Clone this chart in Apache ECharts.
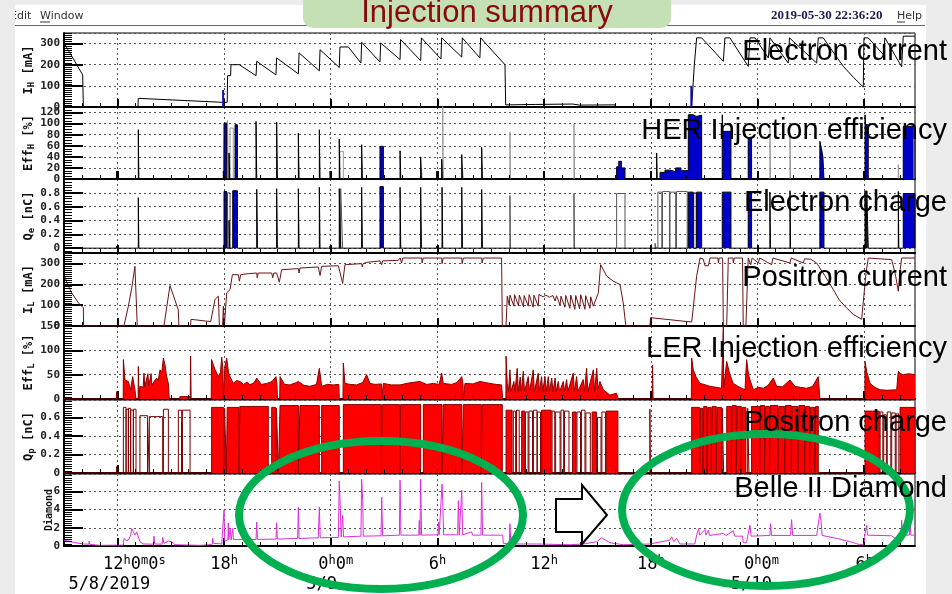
<!DOCTYPE html>
<html><head><meta charset="utf-8">
<script src="https://cdn.jsdelivr.net/npm/echarts@6/dist/echarts.min.js"></script>
<style>html,body{margin:0;padding:0;background:#efefef}#c{width:952px;height:594px}</style>
</head><body><div id="c"></div>
<script>
// ---------------- data (hours since 5/8/2019 00:00) ----------------
const timeTicks = [12, 18, 24, 30, 36, 42, 48, 54];
const timeTickLabels = ['12h0m0s', '18h', '0h0m', '6h', '12h', '18h', '0h0m', '6h'];
const dateTickLabels = ['5/8/2019', '', '5/9', '', '', '', '5/10', ''];

const panelTitles = ['Electron current', 'HER Injection efficiency', 'Electron charge', 'Positron current', 'LER Injection efficiency', 'Positron charge', 'Belle II Diamond'];
const panelUnits = [['I', 'H', ' [mA]'], ['Eff', 'H', ' [%]'], ['Q', 'e', ' [nC]'], ['I', 'L', ' [mA]'], ['Eff', 'L', ' [%]'], ['Q', 'p', ' [nC]'], ['Diamond', '', '']];

// Electron current I_H [mA]
const electronCurrent = [[9.00,303],[10.05,152],[10.09,0],[13.16,0],[13.18,41],[17.96,22],[18.18,22],[18.20,148],[18.37,148],[18.39,200],[18.86,200],[19.80,148],[19.84,216],[20.92,152],[20.96,232],[22.18,157],[22.22,256],[23.36,171],[23.40,271],[24.48,187],[24.52,284],[24.99,284],[25.70,208],[25.74,306],[26.77,213],[26.81,303],[27.90,224],[27.93,319],[29.06,219],[29.10,327],[30.20,227],[30.24,327],[31.37,236],[31.40,327],[32.39,232],[32.43,327],[33.80,200],[33.84,10],[35.50,12],[37.60,14],[38.00,9],[39.99,10],[40.02,0],[44.30,0],[44.45,200],[44.58,327],[44.86,327],[46.08,216],[46.17,327],[46.45,327],[47.48,192],[47.58,327],[47.86,327],[48.61,232],[48.70,327],[49.73,208],[49.80,327],[51.33,208],[51.42,327],[51.70,327],[52.30,255],[52.83,192],[53.40,140],[53.95,94],[53.99,327],[54.23,327],[55.08,248],[55.17,327],[56.11,190],[56.20,335],[56.86,335]];
const electronCurrentBlue = [[17.95,80],[44.28,100]];

// HER injection efficiency [%]  (start, end, value)
const herEffBlocks = [[11.96,11.99,14],[13.18,13.21,89],[17.96,17.99,14],[18.00,18.15,101],[18.28,18.32,47],[18.62,18.75,98],[19.80,19.84,104],[20.96,21.00,103],[22.18,22.22,83],[23.36,23.40,89],[23.96,23.99,14],[24.48,24.51,72],[25.74,25.78,62],[26.77,26.96,59],[27.90,27.94,51],[29.06,29.10,40],[29.96,29.99,14],[30.24,30.28,36],[31.37,31.41,44],[32.49,32.53,57],[40.08,40.20,22],[40.20,40.35,32],[40.35,40.55,20],[42.33,42.36,47],[42.52,42.80,12],[42.80,43.10,16],[43.10,43.40,13],[43.40,43.70,20],[43.70,44.11,15],[44.11,44.40,116],[44.40,44.55,113],[44.55,44.86,115],[46.02,46.05,116],[46.05,46.51,86],[47.48,47.67,74],[51.51,51.60,68],[51.60,51.68,55],[51.68,51.74,40],[54.05,54.08,116],[54.08,54.23,98],[56.20,56.86,95]];
const herEffGrayBlocks = [[18.20,18.23,106],[18.34,18.52,92],[24.52,24.71,50],[29.10,29.14,20],[30.30,30.33,135],[31.41,31.45,20],[34.08,34.11,85],[37.68,37.71,99],[48.70,48.73,92],[49.83,49.86,83],[55.92,55.95,26],[56.80,56.84,101]];

// Electron charge Q_e [nC]
const electronChargeBlocks = [[11.96,11.99,0.03],[13.18,13.21,0.73],[18.00,18.15,0.82],[18.28,18.32,0.40],[18.49,18.75,0.83],[19.84,19.88,0.85],[20.96,21.00,0.86],[22.18,22.22,0.86],[23.36,23.40,0.88],[23.96,23.99,0.03],[24.48,24.56,0.86],[25.74,25.78,0.88],[26.77,26.96,0.89],[27.90,27.94,0.88],[29.06,29.10,0.88],[29.96,29.99,0.03],[30.26,30.30,0.88],[31.37,31.41,0.88],[32.49,32.53,0.85],[44.11,44.39,0.81],[44.58,44.86,0.81],[46.02,46.51,0.81],[47.48,47.67,0.81],[48.70,48.73,0.81],[49.83,49.86,0.83],[51.51,51.74,0.81],[54.05,54.10,0.83],[54.15,54.23,0.83],[55.92,55.95,0.82],[56.20,56.86,0.79]];
const electronChargeOutline = [[18.20,18.34,0.80],[24.56,24.67,0.86],[34.08,34.11,0.76],[37.68,37.71,0.79],[40.08,40.55,0.79],[42.24,42.30,0.07],[42.40,42.62,0.81],[42.66,43.05,0.82],[43.08,43.40,0.81],[43.45,44.05,0.82],[44.42,44.55,0.80],[54.10,54.15,0.83]];

// Positron current I_L [mA]
const positronCurrent = [[9.00,246],[9.20,200],[9.43,159],[9.81,111],[10.09,87],[10.10,0],[12.37,0],[12.62,95],[12.81,183],[12.99,286],[13.12,0],[14.62,0],[14.96,194],[15.43,76],[15.46,0],[16.12,0],[16.14,32],[17.25,21],[17.49,127],[17.68,143],[17.74,0],[17.92,0],[17.96,95],[18.02,0],[18.10,0],[18.15,159],[18.25,150],[18.34,175],[18.47,246],[18.81,246],[18.86,215],[18.94,246],[19.37,251],[19.84,254],[19.87,231],[19.92,254],[20.68,254],[20.74,231],[20.80,254],[20.96,254],[21.11,210],[21.24,270],[22.18,275],[22.22,254],[22.27,278],[23.30,283],[23.40,242],[23.49,286],[24.43,289],[24.67,204],[24.80,294],[25.74,299],[25.78,283],[25.82,299],[26.02,305],[26.77,312],[26.87,294],[26.92,312],[27.80,315],[27.90,326],[27.99,302],[28.05,326],[29.12,326],[29.14,302],[29.20,326],[30.24,326],[30.26,299],[30.33,326],[31.37,326],[31.39,299],[31.46,326],[32.49,326],[32.51,302],[32.58,326],[33.61,326],[33.65,0],[33.86,0],[33.93,143],[34.04,100],[34.08,148],[34.30,95],[34.34,150],[34.56,97],[34.61,148],[34.84,92],[34.88,146],[35.11,95],[35.16,150],[35.39,90],[35.43,148],[35.67,95],[35.71,151],[35.95,140],[36.10,148],[36.30,138],[36.50,146],[36.62,120],[36.70,145],[36.90,100],[36.95,143],[37.17,90],[37.22,146],[37.45,85],[37.50,148],[37.73,80],[37.78,146],[38.00,82],[38.06,150],[38.30,80],[38.34,145],[38.58,85],[38.62,140],[38.77,95],[39.05,159],[39.18,294],[39.52,239],[39.89,215],[40.08,207],[40.17,215],[40.27,199],[40.45,111],[40.60,0],[41.95,0],[41.99,40],[44.30,19],[44.58,239],[44.77,326],[44.95,321],[45.05,289],[45.24,289],[45.33,326],[45.78,326],[45.80,302],[45.85,326],[46.04,326],[46.08,0],[46.27,0],[46.36,326],[46.62,326],[46.64,302],[46.70,326],[47.16,326],[47.20,0],[47.35,0],[47.48,326],[47.62,294],[47.70,326],[48.05,302],[48.12,326],[48.80,294],[48.87,326],[49.83,302],[49.90,326],[50.58,302],[50.65,322],[51.00,320],[51.33,302],[51.80,240],[52.26,175],[52.60,125],[53.01,87],[53.40,55],[53.86,32],[53.95,32],[54.10,250],[54.23,326],[54.90,322],[55.55,318],[55.75,250],[55.92,167],[56.00,250],[56.11,326],[56.86,326]];

// LER injection efficiency [%]
const lerEff = [[9,0],[11.94,0],[11.96,15],[11.98,0],[12.33,0],[12.34,81],[12.43,39],[12.62,36],[12.75,19],[12.86,46],[12.99,19],[13.05,0],[13.17,0],[13.18,67],[13.22,0],[13.26,0],[13.27,26],[13.45,24],[13.50,53],[13.54,25],[13.65,26],[13.72,52],[13.76,27],[13.85,28],[13.90,52],[13.94,28],[14.05,35],[14.21,43],[14.30,38],[14.40,60],[14.50,55],[14.59,84],[14.68,70],[14.78,45],[14.87,32],[14.92,0],[15.50,0],[15.52,5],[16.08,5],[16.10,0],[16.12,88],[16.15,0],[17.28,0],[17.30,81],[17.40,70],[17.50,60],[17.68,46],[17.80,55],[17.87,86],[17.94,60],[17.96,0],[18.02,0],[18.05,67],[18.15,84],[18.25,55],[18.34,46],[18.52,32],[18.70,38],[18.90,36],[19.10,30],[19.30,35],[19.46,29],[19.70,34],[19.84,43],[20.10,30],[20.40,32],[20.70,36],[20.92,46],[20.98,30],[21.00,0],[21.13,0],[21.15,46],[21.40,30],[21.71,29],[22.00,33],[22.18,36],[22.50,28],[22.84,26],[23.20,30],[23.36,63],[23.49,26],[23.80,30],[24.15,29],[24.46,30],[24.48,0],[24.69,0],[24.71,74],[24.80,32],[25.10,30],[25.46,29],[25.80,34],[26.02,50],[26.21,32],[26.50,30],[26.85,31],[26.87,0],[26.94,0],[26.96,32],[27.40,29],[27.90,29],[28.40,33],[29.02,36],[29.40,30],[29.77,32],[30.10,30],[30.24,53],[30.33,32],[30.80,30],[31.10,34],[31.37,46],[31.44,30],[31.46,0],[31.53,0],[31.55,32],[32.00,31],[32.40,36],[32.96,32],[33.30,30],[33.61,29],[33.67,0],[33.85,0],[33.86,88],[33.93,32],[34.00,15],[34.08,60],[34.14,15],[34.30,36],[34.36,15],[34.49,63],[34.55,15],[34.66,45],[34.72,15],[34.83,57],[34.90,15],[35.11,46],[35.18,15],[35.39,60],[35.45,15],[35.67,53],[35.73,15],[35.86,46],[35.92,15],[36.05,46],[36.12,15],[36.24,46],[36.30,15],[36.43,43],[36.50,15],[36.62,43],[36.68,15],[36.80,36],[36.87,15],[37.08,36],[37.15,15],[37.27,40],[37.33,15],[37.64,53],[37.70,15],[37.83,46],[37.90,15],[38.20,40],[38.27,15],[38.39,63],[38.46,15],[38.77,60],[38.84,15],[38.96,63],[39.03,20],[39.14,36],[39.33,19],[39.70,8],[40.08,12],[40.17,0],[42.08,0],[42.10,70],[42.13,0],[44.28,0],[44.30,84],[44.39,60],[44.55,45],[44.77,32],[45.00,30],[45.33,26],[45.70,24],[45.98,22],[46.06,22],[46.08,150],[46.10,22],[46.17,22],[46.27,77],[46.45,50],[46.64,32],[47.00,24],[47.30,19],[47.39,81],[47.50,50],[47.58,39],[47.77,19],[48.05,24],[48.33,22],[48.60,28],[48.89,43],[49.08,26],[49.40,25],[49.83,39],[50.11,26],[50.40,24],[50.77,22],[51.10,26],[51.42,46],[51.48,50],[51.51,0],[54.04,0],[54.05,77],[54.15,55],[54.33,32],[54.60,24],[54.89,19],[55.30,18],[55.83,19],[55.92,57],[56.05,52],[56.20,50],[56.50,52],[56.86,50]];

// Positron charge Q_p [nC]
const positronChargeBlocks = [[17.30,17.98,0.71],[18.03,18.13,0.70],[18.18,18.84,0.71],[18.89,20.49,0.72],[20.68,20.90,0.71],[20.95,21.06,0.70],[21.15,22.18,0.73],[22.27,23.36,0.73],[23.49,24.48,0.73],[24.71,26.85,0.74],[26.90,27.88,0.74],[27.93,29.06,0.74],[29.21,30.26,0.74],[30.33,31.37,0.74],[31.46,32.47,0.74],[32.52,33.65,0.74],[33.86,34.20,0.68],[34.74,34.92,0.67],[35.86,36.40,0.68],[37.60,37.80,0.66],[38.70,38.95,0.66],[39.50,40.15,0.67],[44.30,44.75,0.71],[44.80,44.93,0.70],[44.98,45.16,0.72],[45.21,45.40,0.71],[45.45,45.68,0.72],[45.73,45.98,0.71],[46.27,46.53,0.72],[46.58,46.81,0.73],[46.86,47.09,0.72],[47.14,47.35,0.71],[47.67,48.12,0.72],[48.17,48.40,0.73],[48.45,48.68,0.72],[48.73,49.15,0.73],[49.20,49.53,0.72],[49.58,49.90,0.73],[49.95,50.28,0.72],[50.33,50.65,0.73],[50.70,50.93,0.72],[50.98,51.22,0.71],[51.27,51.42,0.72],[54.05,54.85,0.67],[56.02,56.86,0.71]];
const positronChargeOutline = [[11.96,11.99,0.07],[12.34,12.49,0.71],[12.49,12.62,0.69],[12.62,12.75,0.70],[12.75,12.90,0.68],[12.90,13.05,0.69],[13.27,13.70,0.62],[13.70,13.80,0.56],[13.80,14.55,0.61],[14.59,14.87,0.69],[15.43,15.62,0.68],[15.62,15.66,0.55],[15.66,16.09,0.68],[34.27,34.40,0.67],[34.45,34.60,0.68],[34.95,35.10,0.66],[35.15,35.35,0.67],[35.40,35.60,0.68],[35.62,35.80,0.66],[36.45,36.60,0.67],[36.65,36.90,0.66],[36.95,37.10,0.68],[37.15,37.40,0.67],[37.85,38.05,0.66],[38.10,38.30,0.68],[38.35,38.60,0.65],[39.00,39.20,0.60],[39.25,39.45,0.66],[41.95,41.98,0.69],[46.02,46.10,0.70],[47.45,47.52,0.70],[54.90,55.05,0.66],[55.10,55.25,0.63],[55.30,55.50,0.66],[55.55,55.75,0.65],[55.80,55.95,0.64]];

// Belle II Diamond
const diamond = [[9.00,0.65],[9.53,0.40],[10.09,0.22],[10.40,0.20],[10.42,0.54],[10.45,0.18],[11.02,0.07],[12.34,0.10],[12.37,0.83],[12.50,0.60],[12.62,0.65],[12.75,1.20],[12.81,1.91],[12.90,2.02],[12.99,1.19],[13.09,1.55],[13.18,1.73],[13.27,0.47],[13.46,0.22],[14.03,0.20],[14.06,1.08],[14.10,0.22],[14.52,0.20],[14.55,0.94],[14.62,0.29],[14.87,0.54],[15.06,0.47],[15.24,0.14],[16.65,0.07],[17.21,0.14],[17.34,0.20],[17.36,0.83],[17.40,0.30],[17.49,0.29],[17.87,0.22],[17.98,0.30],[18.00,3.97],[18.04,0.50],[18.07,0.65],[18.22,0.70],[18.24,2.53],[18.27,0.70],[18.34,1.91],[18.40,0.65],[18.49,1.91],[18.53,0.72],[18.62,0.72],[19.80,0.72],[19.84,2.64],[19.88,0.72],[20.92,0.76],[20.96,2.56],[21.00,0.76],[22.14,0.83],[22.18,4.26],[22.22,0.83],[23.30,0.90],[23.36,4.26],[23.41,0.90],[24.43,0.94],[24.48,7.15],[24.54,4.08],[24.59,1.00],[24.65,1.00],[24.67,3.36],[24.72,1.00],[25.70,1.08],[25.74,7.33],[25.80,4.98],[25.83,1.08],[26.83,1.12],[26.87,5.34],[26.92,1.12],[27.86,1.19],[27.90,7.22],[27.95,1.19],[28.95,1.19],[28.98,2.82],[29.02,1.19],[29.06,7.33],[29.11,1.19],[30.03,1.23],[30.07,2.64],[30.10,1.23],[30.26,6.79],[30.30,4.98],[30.35,1.23],[31.14,1.23],[31.18,4.98],[31.23,1.23],[31.37,6.14],[31.42,1.23],[31.93,1.55],[31.98,1.19],[32.45,1.19],[32.49,6.97],[32.54,1.19],[33.67,1.19],[33.71,0.29],[34.04,0.22],[34.08,2.45],[34.13,0.22],[35.58,0.22],[37.46,0.14],[38.20,0.22],[38.96,0.47],[39.24,0.90],[39.70,0.36],[40.45,0.14],[41.95,0.22],[43.08,0.65],[43.17,1.01],[43.30,0.47],[43.45,0.83],[43.64,0.22],[44.48,0.22],[44.58,1.19],[44.69,1.91],[44.75,1.19],[45.05,1.81],[45.10,1.19],[45.24,1.73],[45.30,1.16],[46.08,1.37],[46.17,1.55],[46.23,1.16],[46.64,1.66],[46.73,1.08],[47.16,1.08],[47.20,0.36],[47.39,0.36],[47.45,1.08],[47.58,2.27],[47.64,1.08],[48.70,1.16],[48.74,2.45],[48.79,1.16],[49.86,1.16],[49.92,2.89],[49.98,1.16],[51.33,1.16],[51.51,3.61],[51.57,2.82],[51.64,1.16],[52.45,0.83],[53.20,0.47],[53.76,0.14],[54.01,0.22],[54.05,1.37],[54.14,2.27],[54.19,1.19],[55.55,1.12],[55.83,0.72],[56.08,0.83],[56.11,2.82],[56.16,1.19],[56.54,1.19],[56.58,2.27],[56.63,1.19],[56.86,1.19]];

// ---------------- layout / styles ----------------
const X_MIN = 9, X_MAX = 56.86;
const gridBoxes = [[33,74],[107,72],[179,74],[253,73],[326,73],[400,73],[474,72]];
const yCfg = [
  {min:0, max:350, interval:100, minorStep:10, showMax:false},
  {min:0, max:130, interval:20, minorStep:5, showMax:false},
  {min:-0.07, max:1.0, minorStep:0.04, showMax:false, showMin:false},
  {min:0, max:350, interval:100, minorStep:10, showMax:false},
  {min:0, max:150, interval:50, minorStep:5, showMax:true},
  {min:0, max:0.79, interval:0.2, minorStep:0.025, showMax:false},
  {min:0, max:7.9, interval:2, minorStep:0.25, showMax:false}
];
const titleY = [51.7, 131, 203.3, 277.5, 349, 423, 489];

function steps(list, broken, withBase) {
  const out = [];
  if (withBase) out.push([X_MIN, 0]);
  for (let i = 0; i < list.length; i++) {
    const [s, e, v] = list[i];
    const prev = list[i - 1], next = list[i + 1];
    const joinPrev = !broken && prev && Math.abs(prev[1] - s) < 1e-9;
    const joinNext = !broken && next && Math.abs(next[0] - e) < 1e-9;
    if (!joinPrev) out.push([s, 0]);
    out.push([s, v]);
    out.push([e, v]);
    if (!joinNext) { out.push([e, 0]); if (broken) out.push([e, '-']); }
  }
  if (withBase) out.push([X_MAX, 0]);
  return out;
}
function spikes(list) {
  const out = [];
  list.forEach(([h, v]) => { out.push([h, 0], [h, v], [h, '-']); });
  return out;
}
function tickList(min, max, step) {
  const out = [];
  for (let k = Math.ceil(min / step - 1e-9); k * step <= max + 1e-9; k++) out.push(+(k * step).toFixed(4));
  return out;
}

const grids = gridBoxes.map(([t, h]) => ({left:64, right:37, top:t, height:h, show:true, borderColor:'#000', borderWidth:1, backgroundColor:'#fff'}));

const mono = 'DejaVu Sans Mono';
const nStyle = {fontFamily:mono, fontSize:17, lineHeight:20, color:'#000'};
const xAxes = gridBoxes.map((_, i) => {
  const last = i === gridBoxes.length - 1;
  return {
    gridIndex:i, type:'value', min:X_MIN, max:X_MAX, position:'bottom',
    axisLine:{show:true, onZero:false, lineStyle:{color:'#000', width:2}},
    axisTick:{show:true, customValues:timeTicks, inside:true, length:8, lineStyle:{color:'#000', width:2}},
    splitLine:{show:true, lineStyle:{color:'#555', width:1, type:[2,3]}},
    axisLabel: last ? {
      show:true, customValues:timeTicks, margin:9, color:'#000',
      formatter:(val) => {
        const k = timeTicks.findIndex(t => Math.abs(t - val) < 1e-6);
        if (k < 0) return '';
        let out = '', buf = '', first = true;
        const flush = () => { if (buf) { out += `{${first ? 'n' + k : 'n'}|${buf}}`; first = false; buf = ''; } };
        for (const ch of timeTickLabels[k]) {
          if ('hms'.includes(ch)) { flush(); out += `{s|${ch}}`; } else buf += ch;
        }
        flush();
        if (dateTickLabels[k]) out += `\n{d${k}|${dateTickLabels[k]}}`;
        return out;
      },
      rich:{
        n:nStyle,
        n0:Object.assign({}, nStyle, {padding:[0,0,0,34]}),
        n1:nStyle,
        n2:Object.assign({}, nStyle, {padding:[0,0,0,10]}),
        n3:nStyle, n4:nStyle, n5:nStyle,
        n6:Object.assign({}, nStyle, {padding:[0,0,0,8]}),
        n7:nStyle,
        s:{fontFamily:mono, fontSize:12, lineHeight:12, verticalAlign:'top', color:'#000'},
        d0:Object.assign({}, nStyle, {padding:[0,16,0,0]}),
        d2:Object.assign({}, nStyle, {padding:[0,18,0,0]}),
        d6:Object.assign({}, nStyle, {padding:[0,12,0,0]})
      }
    } : {show:false}
  };
});

const yAxes = yCfg.map((c, i) => {
  const u = panelUnits[i];
  const isDia = u[1] === '';
  const ax = {
    gridIndex:i, type:'value', min:c.min, max:c.max, position:'left',
    axisLine:{show:true, onZero:false, lineStyle:{color:'#000', width:2}},
    axisTick:{show:true, inside:true, length:19, lineStyle:{color:'#000', width:2}},
    splitLine:{show:true, lineStyle:{color:'#555', width:1, type:[2,3]}},
    axisLabel:{show:true, margin:4, showMaxLabel:c.showMax, showMinLabel:c.showMin !== false,
      fontFamily:mono, fontWeight:'bold', fontSize:11, color:'#222'},
    name: isDia ? `{c|${u[0]}}` : `{a|${u[0]}}{b|${u[1]}}{a|${u[2]}}`,
    nameLocation:'middle', nameGap: isDia ? 9 : 28, nameRotate:90, nameMoveOverlap:false,
    nameTextStyle:{rich:{
      a:{fontFamily:mono, fontWeight:'bold', fontSize:12, lineHeight:15, color:'#111'},
      b:{fontFamily:mono, fontWeight:'bold', fontSize:9, lineHeight:9, verticalAlign:'bottom', color:'#111'},
      c:{fontFamily:mono, fontWeight:'bold', fontSize:10, lineHeight:11, color:'#111'}
    }}
  };
  if (c.interval !== undefined) ax.interval = c.interval; else ax.splitNumber = 5;
  return ax;
});

const base = {type:'line', symbol:'none', showSymbol:false, animation:false, silent:true, connectNulls:false};
const series = [
  Object.assign({}, base, {xAxisIndex:0, yAxisIndex:0, data:electronCurrent, lineStyle:{color:'#000', width:1}}),
  Object.assign({}, base, {xAxisIndex:0, yAxisIndex:0, data:spikes(electronCurrentBlue), lineStyle:{color:'#1010c0', width:2}}),
  Object.assign({}, base, {xAxisIndex:1, yAxisIndex:1, data:steps(herEffGrayBlocks, true, false), lineStyle:{color:'#999', width:1}}),
  Object.assign({}, base, {xAxisIndex:1, yAxisIndex:1, data:steps(herEffBlocks, false, true), lineStyle:{color:'#000', width:1}, areaStyle:{color:'#0000cc', opacity:1}}),
  Object.assign({}, base, {xAxisIndex:2, yAxisIndex:2, data:steps(electronChargeOutline, true, false), lineStyle:{color:'#555', width:1}}),
  Object.assign({}, base, {xAxisIndex:2, yAxisIndex:2, data:steps(electronChargeBlocks, false, true), lineStyle:{color:'#000', width:1}, areaStyle:{color:'#0000cc', opacity:1}}),
  Object.assign({}, base, {xAxisIndex:3, yAxisIndex:3, data:positronCurrent, lineStyle:{color:'#6b1414', width:1}}),
  Object.assign({}, base, {xAxisIndex:4, yAxisIndex:4, data:lerEff, lineStyle:{color:'#8b0000', width:1}, areaStyle:{color:'#ff0000', opacity:1}}),
  Object.assign({}, base, {xAxisIndex:5, yAxisIndex:5, data:steps(positronChargeOutline, true, false), lineStyle:{color:'#7a0000', width:1}}),
  Object.assign({}, base, {xAxisIndex:5, yAxisIndex:5, data:steps(positronChargeBlocks, false, true), lineStyle:{color:'#8b0000', width:1}, areaStyle:{color:'#ff0000', opacity:1}}),
  Object.assign({}, base, {xAxisIndex:6, yAxisIndex:6, data:diamond, lineStyle:{color:'#dc2edc', width:1}})
];

function txt(text, x, y, font, fill, align, z) {
  return {type:'text', z:z || 50, style:{text, x, y, font, fill, align, textAlign:align, verticalAlign:'middle', textVerticalAlign:'middle'}};
}
const graphics = [
  {type:'rect', z:-20, shape:{x:0, y:0, width:952, height:594}, style:{fill:'#ececec'}},
  {type:'rect', z:-19, shape:{x:15, y:5, width:911, height:589}, style:{fill:'#ffffff'}},
  {type:'line', z:-18, shape:{x1:15, y1:25.5, x2:925, y2:25.5}, style:{stroke:'#666', lineWidth:1}},
  txt('Edit', 10, 16, '11px "DejaVu Sans"', '#333', 'left', 10),
  txt('Window', 40, 16, '11px "DejaVu Sans"', '#333', 'left', 10),
  {type:'line', z:10, shape:{x1:40, y1:22, x2:50, y2:22}, style:{stroke:'#333', lineWidth:1}},
  {type:'rect', z:11, shape:{x:0, y:0, width:15, height:30}, style:{fill:'#ececec'}},
  txt('2019-05-30 22:36:20', 771, 16, 'bold 13px "Liberation Serif"', '#1b1b50', 'left', 10),
  txt('Help', 897, 16, '11px "DejaVu Sans"', '#333', 'left', 10),
  {type:'line', z:10, shape:{x1:897, y1:22, x2:905, y2:22}, style:{stroke:'#333', lineWidth:1}},
  {type:'rect', z:20, shape:{x:303, y:-12, width:368, height:40, r:10}, style:{fill:'#c5e0b4'}},
  txt('Injection summary', 487, 13, '31px "Liberation Sans"', '#8a0a0a', 'center', 21),
  {type:'ellipse', z:40, shape:{cx:381, cy:515, rx:142, ry:74}, style:{fill:'none', stroke:'#00b050', lineWidth:8}},
  {type:'ellipse', z:40, shape:{cx:766, cy:510, rx:144, ry:76}, style:{fill:'none', stroke:'#00b050', lineWidth:8}},
  {type:'polygon', z:45, shape:{points:[[556,499],[582,499],[582,485],[607,515],[582,544],[582,532],[556,532]]}, style:{fill:'#fff', stroke:'#000', lineWidth:2}}
];
panelTitles.forEach((t, i) => graphics.push(txt(t, 947, titleY[i], '29px "Liberation Sans"', '#000', 'right', 60)));

const chart = echarts.init(document.getElementById('c'), null, {renderer:'canvas', width:952, height:594});
chart.setOption({
  animation:false,
  backgroundColor:'#ececec',
  grid:grids, xAxis:xAxes, yAxis:yAxes, series:series,
  graphic:{elements:graphics}
});

// minor tick comb (y) and hourly ticks (x), positioned through the axes' own scales
const hourTicks = tickList(10, 56, 1);
yCfg.forEach((c, i) => {
  tickList(c.min, c.max, c.minorStep).forEach(v => {
    const p = chart.convertToPixel({gridIndex:i}, [X_MIN, v]);
    if (!p) return;
    const y = Math.round(p[1]) + 0.5;
    graphics.push({type:'line', z:30, silent:true, shape:{x1:p[0], y1:y, x2:p[0] + 8, y2:y}, style:{stroke:'#000', lineWidth:1}});
  });
  hourTicks.forEach(h => {
    const p = chart.convertToPixel({gridIndex:i}, [h, c.min]);
    if (!p) return;
    const x = Math.round(p[0]) + 0.5;
    graphics.push({type:'line', z:30, silent:true, shape:{x1:x, y1:p[1], x2:x, y2:p[1] - 4}, style:{stroke:'#000', lineWidth:1}});
  });
});
chart.setOption({graphic:{elements:graphics}});
</script></body></html>
